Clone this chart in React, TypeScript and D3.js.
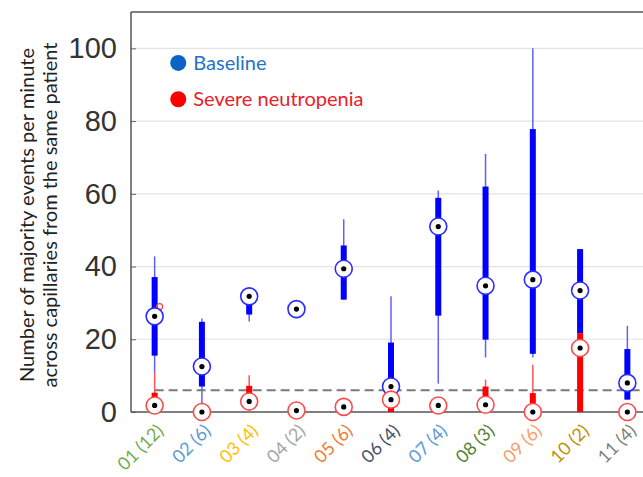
import { useEffect, useRef } from 'react'
import * as d3 from 'd3'

// patient ids, number of capillaries, label colours
const patients = ['01', '02', '03', '04', '05', '06', '07', '08', '09', '10', '11']
const counts = [12, 6, 4, 2, 6, 4, 4, 3, 6, 2, 4]
const labelColors = ['#70ad47', '#5b9bd5', '#ffc000', '#a5a5a5', '#ed7d31', '#44546a', '#5b9bd5', '#548235', '#f4a06a', '#bf9000', '#7f7f7f']

// baseline stats: median, q1, q3, whisker low, whisker high
const baseMedian = [26.3, 12.5, 31.8, 28.3, 39.4, 7.0, 51.0, 34.7, 36.4, 33.4, 8.0]
const baseQ1 = [15.5, 7.0, 26.8, 28.0, 30.9, 5.0, 26.5, 19.9, 16.0, 21.7, 3.4]
const baseQ3 = [37.1, 24.8, 31.8, 28.8, 45.8, 19.1, 58.9, 62.0, 77.8, 44.8, 17.3]
const baseLo = [11.0, 0, 24.9, 28.0, 30.9, 5.0, 7.8, 15.0, 15.0, 21.7, 3.4]
const baseHi = [42.8, 25.7, 31.8, 28.8, 53.0, 31.8, 60.9, 71.0, 100, 44.8, 23.7]

// severe neutropenia stats
const neuMedian = [1.8, 0, 2.9, 0.4, 1.4, 3.4, 1.8, 2.0, 0, 17.6, 0]
const neuQ1 = [0.5, 0, 1.0, 0.2, 1.0, 0, 1.0, 1.0, 0, 0, 0]
const neuQ3 = [5.3, 0, 7.2, 0.6, 2.0, 4.0, 2.0, 7.0, 5.2, 21.7, 0]
const neuLo = [0, 0, 0, 0.2, 1.0, 0, 1.0, 0.5, 0, 0, 0]
const neuHi = [11.0, 0, 10.1, 0.6, 2.0, 4.0, 2.0, 8.9, 13.0, 21.7, 0]
const neuOutliers = [{ i: 0, v: 29.0 }]

const threshold = 6
const yTicks = [0, 20, 40, 60, 80, 100]

const App = () => {
  const svgRef = useRef<SVGSVGElement>(null)

  useEffect(() => {
    if (!svgRef.current) return
    const width = 643
    const height = 477

    const svg = d3.select(svgRef.current)
    svg.selectAll('*').remove()
    svg.attr('width', width).attr('height', height)

    const x = d3.scaleLinear().domain([-0.5, 10.5]).range([131, 651])
    const y = d3.scaleLinear().domain([0, 110]).range([412, 12])

    // gridlines
    svg.append('g')
      .selectAll('line')
      .data(yTicks.slice(1))
      .enter()
      .append('line')
      .attr('x1', x(-0.5))
      .attr('x2', width)
      .attr('y1', d => y(d))
      .attr('y2', d => y(d))
      .attr('stroke', '#e3e3e3')
      .attr('stroke-width', 1.2)

    // y axis
    const yAxis = d3.axisLeft(y).tickValues(yTicks).tickSize(-5).tickPadding(14)
    const ga = svg.append('g')
      .attr('transform', `translate(${x(-0.5)},0)`)
      .call(yAxis)
    ga.select('.domain').remove()
    ga.selectAll('.tick line').attr('stroke', '#666')
    ga.selectAll('.tick text')
      .attr('fill', '#333')
      .attr('font-size', '29px')
      .attr('font-family', 'Liberation Sans, Arial, sans-serif')

    // frame
    svg.append('line')
      .attr('x1', x(-0.5)).attr('x2', x(-0.5))
      .attr('y1', y(110)).attr('y2', y(0))
      .attr('stroke', '#555').attr('stroke-width', 1.5)
    svg.append('line')
      .attr('x1', x(-0.5)).attr('x2', width)
      .attr('y1', y(110)).attr('y2', y(110))
      .attr('stroke', '#555').attr('stroke-width', 1.5)
    svg.append('line')
      .attr('x1', x(-0.5)).attr('x2', width)
      .attr('y1', y(0)).attr('y2', y(0))
      .attr('stroke', '#555').attr('stroke-width', 1.5)

    // dashed threshold line
    svg.append('line')
      .attr('x1', x(0)).attr('x2', width)
      .attr('y1', y(threshold)).attr('y2', y(threshold))
      .attr('stroke', '#7a7a7a')
      .attr('stroke-width', 2)
      .attr('stroke-dasharray', '9,5')

    const idx = d3.range(patients.length)

    // whiskers
    const drawWhiskers = (lo: number[], hi: number[], color: string) => {
      svg.append('g')
        .selectAll('line')
        .data(idx.filter(i => hi[i] > lo[i]))
        .enter()
        .append('line')
        .attr('x1', i => x(i)).attr('x2', i => x(i))
        .attr('y1', i => y(lo[i])).attr('y2', i => y(hi[i]))
        .attr('stroke', color)
        .attr('stroke-width', 1.5)
    }
    const drawBoxes = (q1: number[], q3: number[], color: string) => {
      svg.append('g')
        .selectAll('rect')
        .data(idx.filter(i => q3[i] > q1[i]))
        .enter()
        .append('rect')
        .attr('x', i => x(i) - 3)
        .attr('width', 6)
        .attr('y', i => y(q3[i]))
        .attr('height', i => y(q1[i]) - y(q3[i]))
        .attr('fill', color)
    }
    const drawMedians = (med: number[], color: string) => {
      const g = svg.append('g')
        .selectAll('g')
        .data(idx)
        .enter()
        .append('g')
        .attr('transform', i => `translate(${x(i)},${y(med[i])})`)
      g.append('circle')
        .attr('r', 8.5)
        .attr('fill', '#fff')
        .attr('stroke', color)
        .attr('stroke-width', 1.6)
      g.append('circle')
        .attr('r', 2.6)
        .attr('fill', '#000')
    }

    drawWhiskers(baseLo, baseHi, '#6060ff')
    drawBoxes(baseQ1, baseQ3, '#0000ff')
    drawWhiskers(neuLo, neuHi, '#ff5555')
    drawBoxes(neuQ1, neuQ3, '#ff0000')

    svg.append('g')
      .selectAll('circle')
      .data(neuOutliers)
      .enter()
      .append('circle')
      .attr('cx', d => x(d.i) + 5)
      .attr('cy', d => y(d.v))
      .attr('r', 3)
      .attr('fill', 'none')
      .attr('stroke', '#ff4040')
      .attr('stroke-width', 1.2)

    drawMedians(baseMedian, '#2b2bff')
    drawMedians(neuMedian, '#ff4a4a')

    // x labels
    svg.append('g')
      .selectAll('text')
      .data(idx)
      .enter()
      .append('text')
      .attr('transform', i => `translate(${x(i) + 10},${y(0) + 20}) rotate(-45)`)
      .attr('text-anchor', 'end')
      .attr('fill', i => labelColors[i])
      .attr('font-size', '18px')
      .attr('font-family', 'Lato, sans-serif')
      .text(i => `${patients[i]} (${counts[i]})`)

    // legend
    const legend = [
      { label: 'Baseline', dot: '#0b63c4', text: '#1f72c8', v: 96 },
      { label: 'Severe neutropenia', dot: '#ff0000', text: '#e8202a', v: 86 },
    ]
    const lg = svg.append('g')
      .selectAll('g')
      .data(legend)
      .enter()
      .append('g')
      .attr('transform', d => `translate(${x(0.5)},${y(d.v)})`)
    lg.append('circle').attr('r', 8).attr('fill', d => d.dot)
    lg.append('text')
      .attr('x', 15)
      .attr('dy', '0.35em')
      .attr('fill', d => d.text)
      .attr('font-size', '20px')
      .attr('font-family', 'Lato, sans-serif')
      .text(d => d.label)

    // y title
    const title = svg.append('text')
      .attr('transform', `translate(27,215) rotate(-90)`)
      .attr('text-anchor', 'middle')
      .attr('fill', '#222')
      .attr('font-size', '20px')
      .attr('font-family', 'Lato, sans-serif')
    title.append('tspan').attr('x', 0).attr('dy', '0.35em').text('Number of majority events per minute')
    title.append('tspan').attr('x', 0).attr('dy', '1.15em').text('across capillaries from the same patient')
  }, [])

  return (
    <div style={{ position: 'absolute', left: 0, top: 0 }}>
      <svg ref={svgRef}></svg>
    </div>
  )
}

export default App
